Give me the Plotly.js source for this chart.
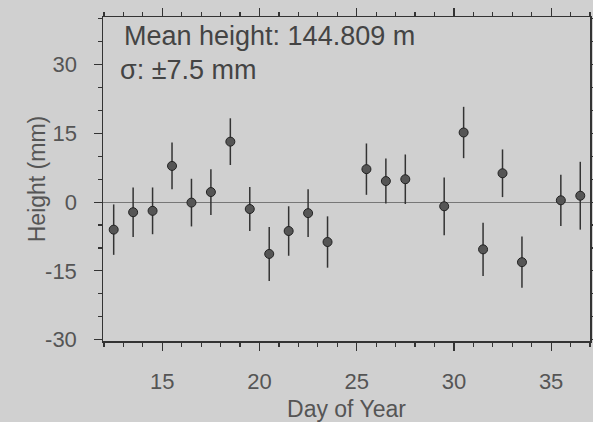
<!DOCTYPE html>
<html>
<head>
<meta charset="utf-8">
<script src="https://cdn.plot.ly/plotly-3.0.1.min.js"></script>
<style>
html,body{margin:0;padding:0;background:#d0d0d0;}
#chart{width:593px;height:422px;}
</style>
</head>
<body>
<div id="chart"></div>
<script>
// Day of year (noon of each day)
var days = [12.5, 13.5, 14.5, 15.5, 16.5, 17.5, 18.5, 19.5, 20.5, 21.5, 22.5, 23.5,
            25.5, 26.5, 27.5, 29.5, 30.5, 31.5, 32.5, 33.5, 35.5, 36.5];
// Height deviation (mm)
var heights = [-6.0, -2.2, -1.9, 7.9, -0.1, 2.2, 13.2, -1.5, -11.3, -6.3, -2.4, -8.7,
               7.2, 4.6, 5.0, -0.9, 15.2, -10.3, 6.3, -13.1, 0.4, 1.4];
// Error (mm)
var errors = [5.5, 5.4, 5.1, 5.1, 5.2, 5.0, 5.1, 4.8, 5.9, 5.4, 5.2, 5.6,
              5.6, 4.9, 5.4, 6.3, 5.6, 5.8, 5.2, 5.6, 5.6, 7.4];
var xTickVals = [15, 20, 25, 30, 35];
var yTickVals = [-30, -15, 0, 15, 30];
var yTickText = ["-30", "-15", "0", "15", "30"];
var noteLines = ["Mean height: 144.809 m", "σ: ±7.5 mm"];

var fontFam = "Liberation Sans, Arial, sans-serif";
var pad = "\u00a0\u00a0";

var trace = {
  x: days, y: heights, type: "scatter", mode: "markers",
  marker: {size: 9, color: "#555555", line: {color: "#222222", width: 1}},
  error_y: {type: "data", array: errors, visible: true, color: "#333333", thickness: 1.5, width: 0},
  showlegend: false
};

var layout = {
  width: 593, height: 422,
  margin: {l: 103, r: 3, t: 17, b: 81},
  paper_bgcolor: "#d0d0d0", plot_bgcolor: "#d0d0d0",
  font: {family: fontFam, color: "#555555"},
  xaxis: {
    range: [11.95, 37], tickvals: xTickVals, ticks: "outside", ticklen: 8, tickwidth: 1.2,
    tickcolor: "#333", showline: true, linecolor: "#333", linewidth: 1.5, mirror: "ticks",
    showgrid: false, zeroline: false, tickfont: {size: 22, color: "#555"},
    ticklabelstandoff: 12,
    minor: {dtick: 1, ticks: "outside", ticklen: 4, tickcolor: "#333", showgrid: false},
    title: {text: "Day of Year", font: {size: 23, color: "#555"}, standoff: 11}
  },
  yaxis: {
    range: [-30.3, 40.4], tickvals: yTickVals, ticktext: yTickText.map(function (t) { return t + pad; }),
    ticks: "outside", ticklen: 8, tickwidth: 1.2,
    tickcolor: "#333", showline: true, linecolor: "#333", linewidth: 1.5, mirror: "ticks",
    showgrid: false, zeroline: true, zerolinecolor: "#777", zerolinewidth: 1,
    tickfont: {size: 22, color: "#555"},
    minor: {dtick: 5, ticks: "outside", ticklen: 4, tickcolor: "#333", showgrid: false},
    title: {text: "Height (mm)", font: {size: 23, color: "#555"}}
  },
  annotations: [
    {xref: "paper", yref: "paper", x: 0.04, y: 0.94, xanchor: "left", yanchor: "middle",
     text: noteLines[0], showarrow: false, font: {size: 27, color: "#444"}},
    {xref: "paper", yref: "paper", x: 0.03, y: 0.836, xanchor: "left", yanchor: "middle",
     text: noteLines[1], showarrow: false, font: {size: 27, color: "#444"}}
  ]
};

Plotly.newPlot("chart", [trace], layout, {displayModeBar: false, staticPlot: true});
</script>
</body>
</html>
